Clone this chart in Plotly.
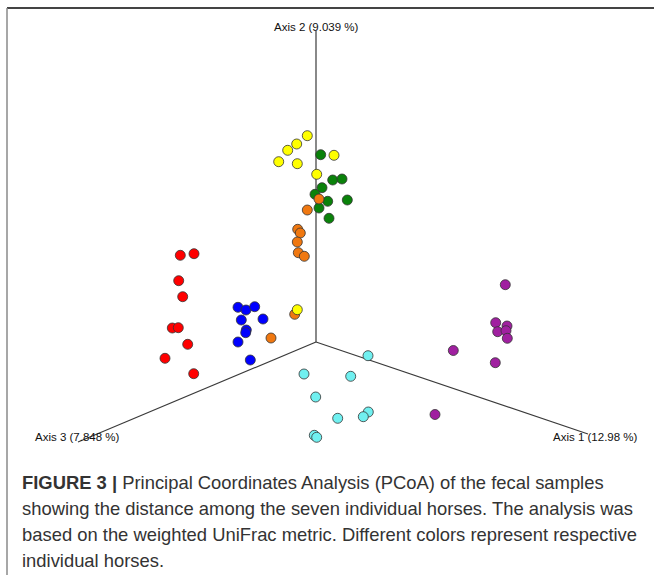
import plotly.graph_objects as go

# Projected PCoA coordinates (screen-projection units, origin at axis crossing)
red_x = [-135.7, -122, -137.3, -133.3, -143.7, -137.7, -128.3, -151, -122.3]
red_y = [86.7, 88.3, 61.3, 45.3, 14, 14.3, -2.3, -16.3, -31.7]

blue_x = [-78, -70, -61.3, -74.7, -53, -69.7, -70.3, -78, -65.7]
blue_y = [34.7, 32, 35.3, 22, 23, 12, 9.3, 0, -18]

cyan_x = [52, -12, 34.7, -0.3, 52.3, 47.3, 21.7, -1.7, 0.7]
cyan_y = [-13.7, -32, -34.3, -55, -70, -74.7, -76.3, -93.3, -95.3]

purple_x = [189.3, 179.7, 191, 181.7, 190, 191.3, 137.3, 179.3, 119]
purple_y = [57.3, 19.3, 16, 10.3, 11.3, 3.7, -8.5, -20.7, -72.5]

green_x = [4.7, 16.7, 26, 6, -1, 11.7, 31.3, 3, 13]
green_y = [187.3, 162, 163, 154.3, 147.7, 140.7, 142, 134, 123.7]

orange_x = [3, -8.7, -18.3, -15.7, -18.7, -17.7, -11.7, -21.3, -45]
orange_y = [143, 132, 112.7, 109, 100, 89.3, 85.7, 27.7, 4]

yellow_x = [-8.7, -19.3, -28.3, -37.3, -18.7, 18, 0.7, -18.7]
yellow_y = [206.3, 198, 191.7, 180.3, 178.3, 186.7, 167.7, 32.3]

# Axis end points (projected) and labels
axis_names = ["Axis 1 (12.98 %)", "Axis 2 (9.039 %)", "Axis 3 (7.848 %)"]
axis_end_x = [272, 0, -238]
axis_end_y = [-92, 311, -100]

caption_lines = [
    "<b>FIGURE 3 |</b> Principal Coordinates Analysis (PCoA) of the fecal samples",
    "showing the distance among the seven individual horses. The analysis was",
    "based on the weighted UniFrac metric. Different colors represent respective",
    "individual horses.",
]

groups = [
    (red_x, red_y, "#ff0000"),
    (blue_x, blue_y, "#0000ff"),
    (cyan_x, cyan_y, "#70f0f0"),
    (purple_x, purple_y, "#a020a0"),
    (green_x, green_y, "#0a820a"),
    (orange_x, orange_y, "#f07810"),
    (yellow_x, yellow_y, "#ffff00"),
]

fig = go.Figure()

# axis lines
for ex, ey in zip(axis_end_x, axis_end_y):
    fig.add_trace(go.Scatter(x=[0, ex], y=[0, ey], mode="lines",
                             line=dict(color="#3a3a3a", width=1.2),
                             hoverinfo="skip", showlegend=False))

for gx, gy, col in groups:
    fig.add_trace(go.Scatter(x=gx, y=gy, mode="markers",
                             marker=dict(size=10, color=col,
                                         line=dict(color="#333333", width=0.8)),
                             showlegend=False))

# axis labels
label_pos = [(279, -95, "center"), (0, 315, "center"), (-239, -95, "center")]
for name, (lx, ly, al) in zip(axis_names, label_pos):
    fig.add_annotation(x=lx, y=ly, xref="x", yref="y", text=name, showarrow=False,
                       font=dict(family="Liberation Sans, Arial, sans-serif", size=11.5, color="#111111"),
                       xanchor=al, yanchor="middle")

# caption
for i, line in enumerate(caption_lines):
    fig.add_annotation(x=20 - 316, y=342 - (482 + 26 * i), xref="x", yref="y",
                       text=line, showarrow=False, xanchor="left", yanchor="middle",
                       font=dict(family="Liberation Sans, Arial, sans-serif", size=18.4, color="#333333"))

# frame lines
fig.add_shape(type="line", x0=7 - 316, x1=654 - 316, y0=342 - 8, y1=342 - 8,
              xref="x", yref="y", line=dict(color="#444444", width=2))
fig.add_shape(type="line", x0=7 - 316, x1=7 - 316, y0=342 - 8, y1=342 - 575,
              xref="x", yref="y", line=dict(color="#8a8a8a", width=1.5))

fig.update_layout(
    width=654, height=575,
    margin=dict(l=0, r=0, t=0, b=0),
    plot_bgcolor="white", paper_bgcolor="white",
    xaxis=dict(range=[-316, 338], visible=False, fixedrange=True),
    yaxis=dict(range=[342 - 575, 342], visible=False, fixedrange=True),
    showlegend=False,
)

fig.write_html("out.html")
